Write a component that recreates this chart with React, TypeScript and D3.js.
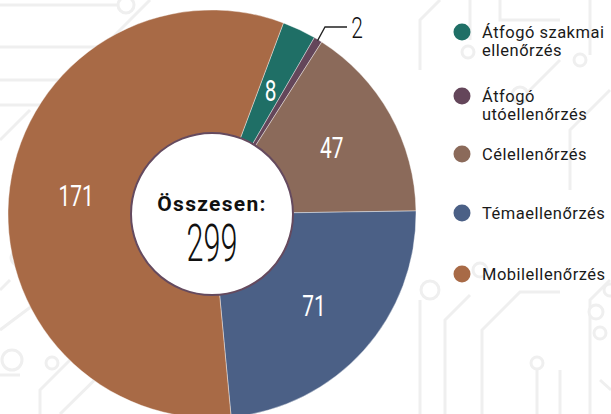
import React from "react";
import * as d3 from "d3";

const categories = ["Átfogó szakmai ellenőrzés", "Átfogó utóellenőrzés", "Célellenőrzés", "Témaellenőrzés", "Mobilellenőrzés"];
const legendLines = [["Átfogó szakmai", "ellenőrzés"], ["Átfogó", "utóellenőrzés"], ["Célellenőrzés"], ["Témaellenőrzés"], ["Mobilellenőrzés"]];
const values = [8, 2, 47, 71, 171];
const colors = ["#1f6f66", "#64465a", "#8b6a5a", "#4b6086", "#a86a46"];
const totalLabel = "Összesen:";

const W = 611, H = 414;
const cx = 212, cy = 214;
const R = 204, r = 81;

// decorative circuit-board background
const bgPaths = [
  "M0,5 L120,5", "M0,47 L110,47", "M0,80 L60,80", "M0,105 L50,105",
  "M150,0 L110,40", "M0,140 L30,110", "M0,330 L40,300", "M0,290 L10,280",
  "M40,414 L40,390 L70,360", "M0,375 L20,375", "M60,414 L120,355",
  "M440,0 L420,20 L420,70", "M470,0 L470,40", "M500,0 L500,20 L560,20",
  "M590,0 L590,55", "M560,60 L520,100", "M610,90 L570,130 L570,190",
  "M445,414 L445,320 L470,295", "M482,414 L482,330 L520,292 L560,292",
  "M560,414 L560,370", "M590,414 L590,300 L610,280", "M537,414 L537,360",
  "M600,380 L611,390", "M420,300 L420,414",
];
const bgCircles: [number, number, number][] = [
  [126, 5, 8], [18, 258, 7], [12, 360, 10], [52, 363, 6], [468, 52, 6], [520, 95, 8],
  [580, 60, 6], [430, 290, 9], [480, 270, 7], [596, 312, 7], [600, 333, 6], [537, 363, 6], [610, 290, 6],
];

export default function App() {
  const pie = d3.pie<number>().sort(null).startAngle((20.5 * Math.PI) / 180).endAngle((20.5 * Math.PI) / 180 + 2 * Math.PI);
  const arcs = pie(values);
  const arc = d3.arc<d3.PieArcDatum<number>>().innerRadius(r).outerRadius(R);
  const labelArc = d3.arc<d3.PieArcDatum<number>>().innerRadius(137).outerRadius(137);
  const total = d3.sum(values);
  const legendY = [32, 96, 154, 213, 274];

  const small = arcs[1];
  const mid = (small.startAngle + small.endAngle) / 2;
  const p0 = [cx + Math.sin(mid) * (R - 1), cy - Math.cos(mid) * (R - 1)];

  return (
    <svg width={W} height={H} style={{ position: "absolute", left: 0, top: 0, background: "#fff" }}
      fontFamily="Roboto, 'DejaVu Sans', sans-serif">
      <g stroke="#efefef" strokeWidth={3} fill="none">
        {bgPaths.map((d, i) => <path key={i} d={d} />)}
        {bgCircles.map((c, i) => <circle key={i} cx={c[0]} cy={c[1]} r={c[2]} fill="#fff" />)}
      </g>
      <g transform={`translate(${cx},${cy})`}>
        {arcs.map((a, i) => (
          <path key={i} d={arc(a) || ""} fill={colors[i]} stroke="#fff" strokeWidth={0.4} />
        ))}
        {arcs.map((a, i) => {
          if (values[i] < 5) return null;
          const [x, y] = labelArc.centroid(a);
          return (
            <text key={i} transform={`translate(${x},${y}) scale(0.72,1)`} textAnchor="middle" dy="0.36em"
              fill="#fff" fontSize={29} fontWeight={400}>{values[i]}</text>
          );
        })}
        <circle r={r} fill="#fff" stroke="#654a5e" strokeWidth={2} />
        <text y={-3} textAnchor="middle" fontSize={21} fontWeight={700} letterSpacing={1.3} fill="#111">{totalLabel}</text>
        <text transform="translate(0,47) scale(0.6,1)" textAnchor="middle" fontSize={51} fontWeight={300} fill="#111">{total}</text>
      </g>
      <polyline points={`${p0[0]},${p0[1]} 325,27 347,27`} fill="none" stroke="#222" strokeWidth={1.3} />
      <text transform="translate(357,27) scale(0.7,1)" textAnchor="middle" dy="0.36em" fontSize={30} fontWeight={300} fill="#111">{values[1]}</text>
      {categories.map((c, i) => (
        <g key={c} transform={`translate(0,${legendY[i]})`}>
          <circle cx={462} cy={0} r={8.5} fill={colors[i]} />
          {legendLines[i].map((t, j) => (
            <text key={j} x={482} y={6 + j * 18} fontSize={16.5} fill="#1a1a1a" letterSpacing={0.5}>{t}</text>
          ))}
        </g>
      ))}
    </svg>
  );
}
